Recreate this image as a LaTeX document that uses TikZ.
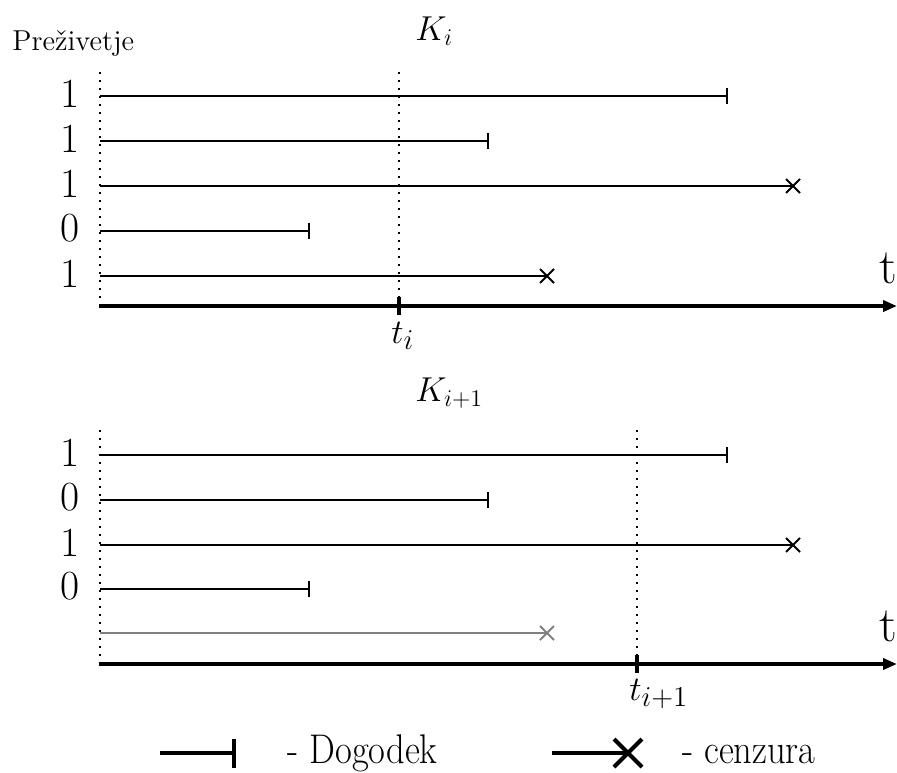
\documentclass[tikz,border=0pt]{standalone}
\usetikzlibrary{arrows.meta}
\begin{document}
\begin{tikzpicture}[x=0.5pt,y=-0.5pt,
  life/.style={line width=1pt},
  grayline/.style={line width=1pt,draw=black!50},
  axisline/.style={line width=2pt,-{Triangle[length=7pt,width=5.5pt]}},
  dotline/.style={line width=1pt,dash pattern=on 1pt off 3pt},
  ticktm/.style={line width=2pt},
  numlbl/.style={font=\huge,inner sep=0pt},
  tlbl/.style={font=\Huge,inner sep=0pt},
  mathlbl/.style={font=\fontsize{19}{21}\selectfont,inner sep=0pt,anchor=base west},
  klbl/.style={font=\fontsize{18}{20}\selectfont,inner sep=0pt,anchor=base west},
  leglbl/.style={font=\huge,inner sep=0pt,anchor=base east,xscale=0.88},
  evbar/.pic={\draw[line width=1pt] (0,-8) -- (0,8);},
  cens/.pic={\draw[line width=1pt] (-7,-7) -- (7,7) (-7,7) -- (7,-7);},
  censgray/.pic={\draw[line width=1pt,black!50] (-7,-7) -- (7,7) (-7,7) -- (7,-7);}
]
\useasboundingbox (0,0) rectangle (897,772);

% ---------- top panel ----------
\node[font=\Large,inner sep=0pt,anchor=base west] (prez) at (12,50) {Preživetje};
\node[klbl] (Ki) at (415,40) {$K_i$};

\coordinate (tA0) at (100,72);
\coordinate (tA1) at (100,306);
\coordinate (tB0) at (399,72);
\coordinate (tB1) at (399,306);
\draw[dotline] (tA0) -- (tA1);
\draw[dotline] (tB0) -- (tB1);

\coordinate (ts1) at (100,96);  \coordinate (te1) at (727,96);
\coordinate (ts2) at (100,141); \coordinate (te2) at (488,141);
\coordinate (ts3) at (100,186); \coordinate (te3) at (793,186);
\coordinate (ts4) at (100,231); \coordinate (te4) at (309,231);
\coordinate (ts5) at (100,276); \coordinate (te5) at (547,276);
\draw[life] (ts1) -- (te1); \pic at (te1) {evbar};
\draw[life] (ts2) -- (te2); \pic at (te2) {evbar};
\draw[life] (ts3) -- (te3); \pic at (te3) {cens};
\draw[life] (ts4) -- (te4); \pic at (te4) {evbar};
\draw[life] (ts5) -- (te5); \pic at (te5) {cens};

\node[numlbl] (tn1) at (70,93.5) {1};
\node[numlbl] (tn2) at (70,138.5) {1};
\node[numlbl] (tn3) at (70,183.5) {1};
\node[numlbl] (tn4) at (70,228.5) {0};
\node[numlbl] (tn5) at (70,273.5) {1};

\coordinate (tx0) at (99,306);
\coordinate (tx1) at (897,306);
\draw[axisline] (tx0) -- (tx1);
\coordinate (tk0) at (399,297);
\coordinate (tk1) at (399,315);
\draw[ticktm] (tk0) -- (tk1);
\node[mathlbl] (ti) at (391,343) {$t_i$};
\node[tlbl] (tt) at (888,268) {t};

% ---------- bottom panel ----------
\node[klbl] (Ki1) at (415,401) {$K_{i+1}$};

\coordinate (bA0) at (100,430);
\coordinate (bA1) at (100,664);
\coordinate (bB0) at (637,430);
\coordinate (bB1) at (637,664);
\draw[dotline] (bA0) -- (bA1);
\draw[dotline] (bB0) -- (bB1);

\coordinate (bs1) at (100,455); \coordinate (be1) at (727,455);
\coordinate (bs2) at (100,500); \coordinate (be2) at (488,500);
\coordinate (bs3) at (100,545); \coordinate (be3) at (793,545);
\coordinate (bs4) at (100,589); \coordinate (be4) at (309,589);
\coordinate (bs5) at (100,633); \coordinate (be5) at (547,633);
\draw[life] (bs1) -- (be1); \pic at (be1) {evbar};
\draw[life] (bs2) -- (be2); \pic at (be2) {evbar};
\draw[life] (bs3) -- (be3); \pic at (be3) {cens};
\draw[life] (bs4) -- (be4); \pic at (be4) {evbar};
\draw[grayline] (bs5) -- (be5); \pic at (be5) {censgray};

\node[numlbl] (bn1) at (70,452.5) {1};
\node[numlbl] (bn2) at (70,497.5) {0};
\node[numlbl] (bn3) at (70,542.5) {1};
\node[numlbl] (bn4) at (70,586.5) {0};

\coordinate (bx0) at (99,664);
\coordinate (bx1) at (897,664);
\draw[axisline] (bx0) -- (bx1);
\coordinate (bk0) at (637,655);
\coordinate (bk1) at (637,673);
\draw[ticktm] (bk0) -- (bk1);
\node[mathlbl] (ti1) at (629,700) {$t_{i+1}$};
\node[tlbl] (bt) at (888,626) {t};

% ---------- legend ----------
\coordinate (l1a) at (160,753);
\coordinate (l1b) at (234,753);
\draw[line width=2pt] (l1a) -- (l1b);
\draw[line width=2pt] (234,739) -- (234,768);
\node[leglbl] (ldog) at (438,763) {- Dogodek};

\coordinate (l2a) at (552,753);
\coordinate (l2b) at (628,753);
\draw[line width=2pt] (l2a) -- (l2b);
\draw[line width=2pt] (614,739) -- (642,767) (614,767) -- (642,739);
\node[leglbl] (lcen) at (816,763) {- cenzura};
\end{tikzpicture}
\end{document}
